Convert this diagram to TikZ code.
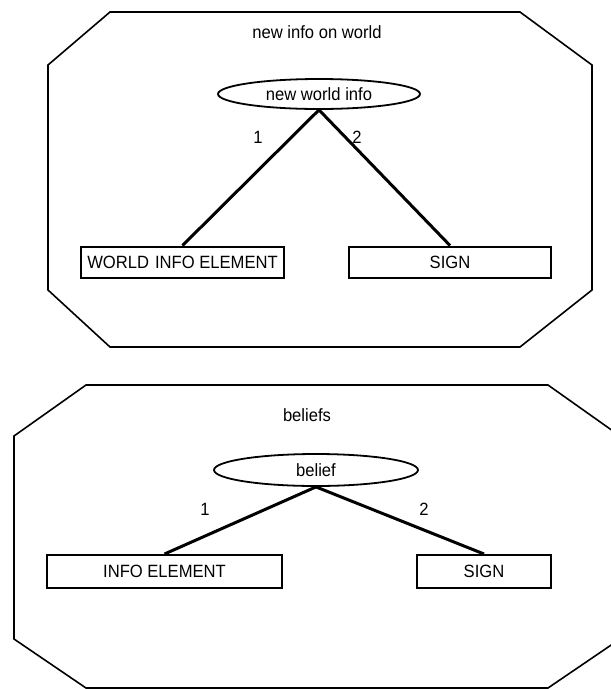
\documentclass[tikz,border=0pt]{standalone}
\usepackage{fontspec}
\setmainfont{Liberation Sans}
\usetikzlibrary{shapes.geometric}
% slightly taller lettering
\newcommand\tallx[1]{\scalebox{1}[1.07]{#1}}
\begin{document}
\begin{tikzpicture}[x=1pt,y=-1pt,
  every node/.style={font=\fontsize{16.6}{19}\selectfont, inner sep=0pt},
  frame/.style={draw, line width=1.6pt, line join=miter},
  head/.style={draw, ellipse, line width=1.8pt, minimum width=202pt, minimum height=30pt},
  leaf/.style={draw, rectangle, line width=2pt, minimum height=31pt},
  link/.style={line width=3pt}]
\useasboundingbox (0,0) rectangle (611,689);
\begin{scope}
\clip (0,0) rectangle (611,689);

% upper frame: new info on world
\draw[frame] (110,12) -- (520,12) -- (592,65) -- (592,290) -- (520,347)
  -- (110,347) -- (48,290) -- (48,65) -- cycle;
\node (t1) at (317,32) {\tallx{new info on world}};
\node[head] (h1) at (319,94) {\tallx{new world info}};
\node[leaf, minimum width=203pt] (a1) at (182.5,262) {\tallx{WORLD\hspace{6pt}INFO ELEMENT}};
\node[leaf, minimum width=202pt] (b1) at (450,262) {\tallx{SIGN}};
\draw[link] (h1.south) -- (a1.north);
\draw[link] (h1.south) -- (b1.north);
\node (n11) at (258,137) {\tallx{1}};
\node (n12) at (357,137) {\tallx{2}};

% lower frame: beliefs
\draw[frame] (86,385) -- (548,385) -- (620,436) -- (620,639) -- (548,688)
  -- (86,688) -- (14,639) -- (14,436) -- cycle;
\node (t2) at (307,415) {\tallx{beliefs}};
\node[head, minimum width=204pt, minimum height=32pt] (h2) at (316,470) {\tallx{belief}};
\node[leaf, minimum width=235pt, minimum height=33pt] (a2) at (164.5,571.5) {\tallx{INFO ELEMENT}};
\node[leaf, minimum width=134pt, minimum height=33pt] (b2) at (484,571.5) {\tallx{SIGN}};
\draw[link] (h2.south) -- (a2.north);
\draw[link] (h2.south) -- (b2.north);
\node (n21) at (205,509) {\tallx{1}};
\node (n22) at (424,509) {\tallx{2}};
\end{scope}
\end{tikzpicture}
\end{document}
